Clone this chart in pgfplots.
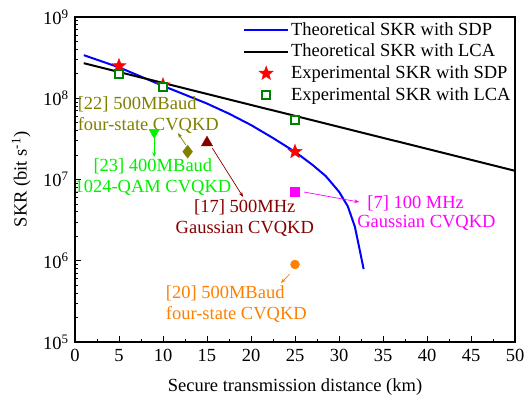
\documentclass[border=0pt]{standalone}
\usepackage{fontspec}
\setmainfont{Liberation Serif}
\usepackage{pgfplots}
\pgfplotsset{compat=1.18}
\usetikzlibrary{calc,arrows.meta,plotmarks}

\definecolor{sdpblue}{RGB}{0,0,255}
\definecolor{lcagreen}{RGB}{0,128,0}
\definecolor{limeg}{RGB}{0,240,0}
\definecolor{oliveg}{RGB}{128,128,0}
\definecolor{darkr}{RGB}{135,0,0}
\definecolor{magen}{RGB}{255,0,255}
\definecolor{orng}{RGB}{255,128,0}

% filled five-pointed star
\pgfdeclareplotmark{fstar}{%
  \pgfpathmoveto{\pgfpointpolar{90}{\pgfplotmarksize}}%
  \pgfpathlineto{\pgfpointpolar{126}{0.42\pgfplotmarksize}}%
  \pgfpathlineto{\pgfpointpolar{162}{\pgfplotmarksize}}%
  \pgfpathlineto{\pgfpointpolar{198}{0.42\pgfplotmarksize}}%
  \pgfpathlineto{\pgfpointpolar{234}{\pgfplotmarksize}}%
  \pgfpathlineto{\pgfpointpolar{270}{0.42\pgfplotmarksize}}%
  \pgfpathlineto{\pgfpointpolar{306}{\pgfplotmarksize}}%
  \pgfpathlineto{\pgfpointpolar{342}{0.42\pgfplotmarksize}}%
  \pgfpathlineto{\pgfpointpolar{18}{\pgfplotmarksize}}%
  \pgfpathlineto{\pgfpointpolar{54}{0.42\pgfplotmarksize}}%
  \pgfpathclose\pgfusepathqfillstroke}

\begin{document}
\fontsize{18.5}{21}\selectfont
\begin{tikzpicture}
\begin{axis}[
    scale only axis,
    width=440pt, height=325pt,
    xmin=0, xmax=50,
    ymode=log, ymin=1e5, ymax=1e9,
    xtick={0,5,...,50}, minor x tick num=1,
    ytick={1e5,1e6,1e7,1e8,1e9},
    yticklabels={10\textsuperscript{5},10\textsuperscript{6},10\textsuperscript{7},10\textsuperscript{8},10\textsuperscript{9}},
    /pgf/number format/assume math mode=true,
    xticklabel={\pgfmathprintnumber{\tick}},
    xticklabel style={yshift=-1pt},
    tick align=inside, xtick pos=bottom, ytick pos=left,
    major tick length=6pt, minor tick length=3.5pt,
    axis line style={line width=1.2pt},
    tick style={line width=0.9pt, black},
    xlabel={Secure transmission distance (km)},
    xlabel style={yshift=-4pt},
    ylabel={SKR (bit s\textsuperscript{-1})},
    legend style={draw=none, fill=none, at={(0.995,0.99)}, anchor=north east,
                  row sep=2pt, inner sep=0pt},
    legend cell align=left,
    legend image code/.code={\draw[mark repeat=2,mark phase=2,#1]
        plot coordinates {(0pt,0pt) (22pt,0pt) (44pt,0pt)};},
]
% theoretical curves
\addplot[sdpblue, line width=2pt, no marks] coordinates {
  (1,3.39e8) (5,2.40e8) (10,1.42e8) (15,8.6e7) (17.5,6.46e7) (20,4.68e7)
  (22.5,3.24e7) (25,2.19e7) (27,1.51e7) (28.5,1.10e7) (30,7.08e6)
  (31,4.68e6) (31.8,2.63e6) (32.3,1.45e6) (32.8,7.9e5)
};
\addlegendentry{Theoretical SKR with SDP}
\addplot[black, line width=2pt, no marks] coordinates {
  (1,2.7e8) (50,1.28e7)
};
\addlegendentry{Theoretical SKR with LCA}
% experiments
\addplot[only marks, mark=fstar, mark size=7.5pt, color=red, fill=red, line width=0.3pt] coordinates {
  (5,2.5e8) (10,1.45e8) (25,2.2e7)
};
\addlegendentry{Experimental SKR with SDP}
\addplot[only marks, mark=square*, mark size=4pt, draw=lcagreen, fill=white, line width=1.6pt] coordinates {
  (5,2.0e8) (10,1.38e8) (25,5.4e7)
};
\addlegendentry{Experimental SKR with LCA}

% reference works
\addplot[forget plot, only marks, mark=triangle*, mark size=6pt, color=limeg,
  mark options={rotate=180}] coordinates {(9,3.8e7)};
\addplot[forget plot, only marks, mark=diamond*, mark size=6.5pt, color=oliveg] coordinates {(12.8,2.2e7)};
\addplot[forget plot, only marks, mark=triangle*, mark size=6.5pt, color=darkr] coordinates {(15,2.84e7)};
\addplot[forget plot, only marks, mark=square*, mark size=4.5pt, color=magen] coordinates {(25,7.1e6)};
\addplot[forget plot, only marks, mark=*, mark size=4.5pt, color=orng] coordinates {(25,9e5)};

% annotations
\node[oliveg, anchor=west, align=left, inner sep=0pt] at (axis cs:0.3,6.22e7)
  {[22] 500MBaud\\four-state CVQKD};
\draw[oliveg, line width=0.7pt, -{Stealth[length=5pt]}] (axis cs:12.6,2.66e7) -- (axis cs:11.7,3.73e7);
\node[limeg, align=center, inner sep=0pt] at (axis cs:8.85,1.06e7)
  {[23] 400MBaud\\1024-QAM CVQKD};
\draw[limeg, line width=0.7pt, -{Stealth[length=5pt]}] (axis cs:9,3.34e7) -- (axis cs:9,1.89e7);
\node[darkr, align=center, inner sep=0pt] at (axis cs:19.3,3.31e6)
  {[17] 500MHz\\Gaussian CVQKD};
\draw[darkr, line width=0.7pt, -{Stealth[length=5pt]}] (axis cs:15.6,2.44e7) -- (axis cs:19.1,6.1e6);
\node[magen, anchor=west, inner sep=0pt] at (axis cs:33.2,5.14e6) {[7] 100 MHz};
\node[magen, anchor=west, inner sep=0pt] at (axis cs:32.06,2.92e6) {Gaussian CVQKD};
\draw[magen, line width=0.7pt, -{Stealth[length=5pt]}] (axis cs:26.0,7.02e6) -- (axis cs:32.3,5.28e6);
\node[orng, anchor=west, align=left, inner sep=0pt] at (axis cs:10.3,2.9e5)
  {[20] 500MBaud\\four-state CVQKD};
\draw[orng, line width=0.7pt, -{Stealth[length=5pt]}] (axis cs:24.4,6.87e5) -- (axis cs:23.4,5.32e5);
\end{axis}
\pgfresetboundingbox
\path[use as bounding box] ($(current axis.south west)+(-75pt,-59pt)$)
  rectangle ($(current axis.north east)+(9pt,17pt)$);
\end{tikzpicture}
\end{document}
